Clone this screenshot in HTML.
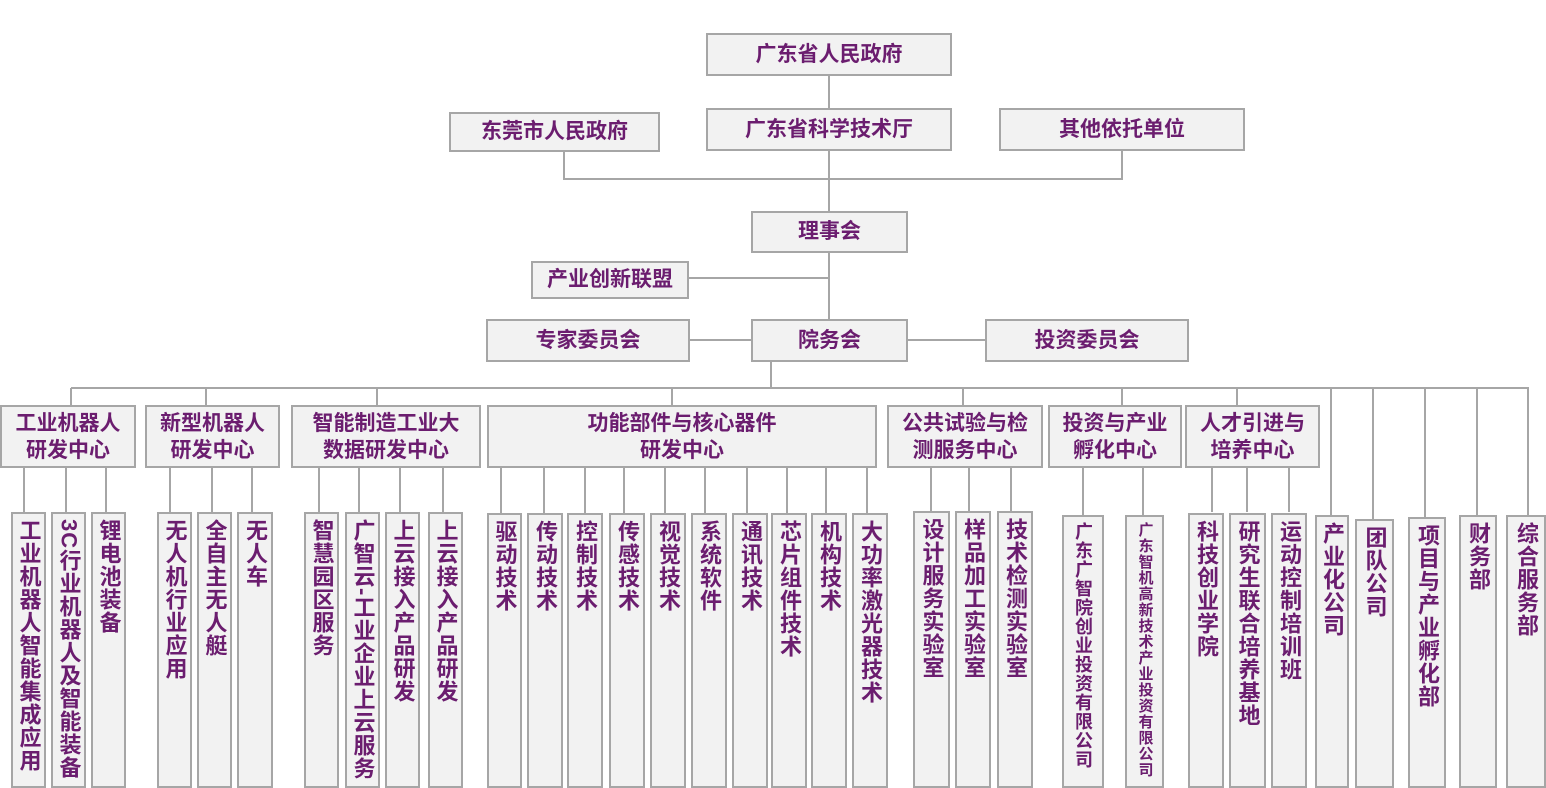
<!DOCTYPE html>
<html><head><meta charset="utf-8">
<style>
*{margin:0;padding:0;box-sizing:border-box}
body{width:1546px;height:788px;background:#fff;position:relative;overflow:hidden;font-family:"Liberation Sans","Noto Sans CJK SC","WenQuanYi Zen Hei",sans-serif;font-weight:bold;color:#6b1d6f}
.b{position:absolute;background:#f2f2f2;border:2px solid #a6a6a6;display:flex;align-items:center;justify-content:center;text-align:center}
.t{font-size:21px;line-height:26px}
.m{font-size:21px;line-height:27px}
.v{position:absolute;background:#f2f2f2;border:2px solid #a6a6a6;top:512px;height:276px;writing-mode:vertical-rl;font-size:22px;line-height:32px;padding-top:5px;letter-spacing:1px;text-align:start;display:flex;align-items:center}
svg{position:absolute;left:0;top:0}
</style></head><body>
<svg width="1546" height="788" stroke="#a6a6a6" stroke-width="2" fill="none">
<path d="M829 75V211M564 151V179H1122V150M829 150V179M829 253V319M688 278H829M689 340H751M907 340H985M771 362V388M71 388H1529"/>
<path d="M71 388V405M206 388V405M377 388V405M672 388V405M963 388V405M1122 388V405M1237 388V405M1331 388V515M1373 388V519M1425 388V517M1477 388V515M1528 388V515"/>
<path d="M24 467V512M66 467V512M106 467V512M170 467V512M212 467V512M252 467V512M319 467V512M359 467V512M400 467V512M443 467V512"/>
<path d="M501 467V513M544 467V513M585 467V513M624 467V513M665 467V513M705 467V513M747 467V513M787 467V513M826 467V513M867 467V513"/>
<path d="M931 467V511M969 467V511M1011 467V511M1083 467V515M1143 467V515M1212 467V512M1247 467V512M1289 467V512"/>
</svg>
<div class="b t" style="left:706px;top:33px;width:246px;height:43px">广东省人民政府</div>
<div class="b t" style="left:449px;top:112px;width:211px;height:40px">东莞市人民政府</div>
<div class="b t" style="left:706px;top:108px;width:246px;height:43px">广东省科学技术厅</div>
<div class="b t" style="left:999px;top:108px;width:246px;height:43px">其他依托单位</div>
<div class="b t" style="left:751px;top:211px;width:157px;height:42px">理事会</div>
<div class="b t" style="left:531px;top:261px;width:158px;height:38px">产业创新联盟</div>
<div class="b t" style="left:486px;top:319px;width:204px;height:43px">专家委员会</div>
<div class="b t" style="left:751px;top:319px;width:157px;height:43px">院务会</div>
<div class="b t" style="left:985px;top:319px;width:204px;height:43px">投资委员会</div>

<div class="b m" style="left:0;top:405px;width:136px;height:63px">工业机器人<br>研发中心</div>
<div class="b m" style="left:145px;top:405px;width:135px;height:63px">新型机器人<br>研发中心</div>
<div class="b m" style="left:291px;top:405px;width:190px;height:63px">智能制造工业大<br>数据研发中心</div>
<div class="b m" style="left:487px;top:405px;width:390px;height:63px">功能部件与核心器件<br>研发中心</div>
<div class="b m" style="left:887px;top:405px;width:156px;height:63px">公共试验与检<br>测服务中心</div>
<div class="b m" style="left:1048px;top:405px;width:134px;height:63px">投资与产业<br>孵化中心</div>
<div class="b m" style="left:1185px;top:405px;width:135px;height:63px">人才引进与<br>培养中心</div>

<div class="v" style="left:11px;width:35px">工业机器人智能集成应用</div>
<div class="v" style="left:51px;width:35px">3C行业机器人及智能装备</div>
<div class="v" style="left:91px;width:35px">锂电池装备</div>
<div class="v" style="left:157px;width:35px">无人机行业应用</div>
<div class="v" style="left:197px;width:35px">全自主无人艇</div>
<div class="v" style="left:237px;width:36px">无人车</div>
<div class="v" style="left:304px;width:35px">智慧园区服务</div>
<div class="v" style="left:345px;width:35px">广智云-工业企业上云服务</div>
<div class="v" style="left:385px;width:35px">上云接入产品研发</div>
<div class="v" style="left:428px;width:35px">上云接入产品研发</div>

<div class="v" style="left:487px;top:513px;height:275px;width:35px">驱动技术</div>
<div class="v" style="left:527px;top:513px;height:275px;width:36px">传动技术</div>
<div class="v" style="left:567px;top:513px;height:275px;width:36px">控制技术</div>
<div class="v" style="left:609px;top:513px;height:275px;width:36px">传感技术</div>
<div class="v" style="left:650px;top:513px;height:275px;width:36px">视觉技术</div>
<div class="v" style="left:691px;top:513px;height:275px;width:36px">系统软件</div>
<div class="v" style="left:732px;top:513px;height:275px;width:36px">通讯技术</div>
<div class="v" style="left:771px;top:513px;height:275px;width:36px">芯片组件技术</div>
<div class="v" style="left:811px;top:513px;height:275px;width:36px">机构技术</div>
<div class="v" style="left:852px;top:513px;height:275px;width:36px">大功率激光器技术</div>

<div class="v" style="left:913px;top:511px;height:277px;width:37px">设计服务实验室</div>
<div class="v" style="left:955px;top:511px;height:277px;width:36px">样品加工实验室</div>
<div class="v" style="left:997px;top:511px;height:277px;width:36px">技术检测实验室</div>

<div class="v" style="left:1062px;top:515px;height:273px;width:42px;font-size:18px;letter-spacing:1px">广东广智院创业投资有限公司</div>
<div class="v" style="left:1125px;top:515px;height:273px;width:39px;font-size:15px;letter-spacing:1px">广东智机高新技术产业投资有限公司</div>
<div class="v" style="left:1188px;top:513px;height:275px;width:36px">科技创业学院</div>
<div class="v" style="left:1229px;top:513px;height:275px;width:37px">研究生联合培养基地</div>
<div class="v" style="left:1271px;top:513px;height:275px;width:36px">运动控制培训班</div>
<div class="v" style="left:1315px;top:515px;height:273px;width:34px">产业化公司</div>
<div class="v" style="left:1355px;top:519px;height:269px;width:39px">团队公司</div>
<div class="v" style="left:1408px;top:517px;height:271px;width:38px">项目与产业孵化部</div>
<div class="v" style="left:1459px;top:515px;height:273px;width:38px">财务部</div>
<div class="v" style="left:1506px;top:515px;height:273px;width:40px">综合服务部</div>
</body></html>
